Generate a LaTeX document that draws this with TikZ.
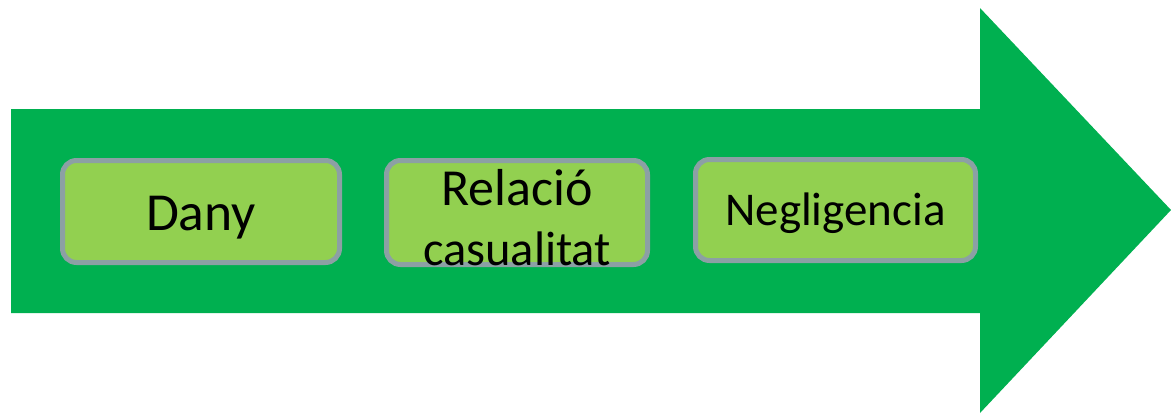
\documentclass[tikz,border=0pt]{standalone}
\usepackage{fontspec}
\setmainfont{Carlito}
\definecolor{arrowgreen}{RGB}{0,176,80}
\definecolor{boxgreen}{RGB}{146,208,80}
\definecolor{boxgray}{RGB}{140,160,164}
\begin{document}
\begin{tikzpicture}[x=1pt,y=-1pt,
    stagebox/.style={draw=boxgray, line width=5pt, fill=boxgreen,
      rounded corners=14pt, inner sep=0pt},
    stagetext/.style={anchor=base, inner sep=0pt, text=black}]
      \useasboundingbox (0,0) rectangle (1171,413);
      % big arrow
      \coordinate (tail top) at (11,109);
      \coordinate (tail bot) at (11,313);
      \coordinate (tip) at (1171,210);
      \fill[arrowgreen] (tail top) -- (980,109) -- (980,8) -- (tip)
        -- (980,413) -- (980,313) -- (tail bot) -- cycle;
      % stages
      \node[stagebox, minimum width=277pt, minimum height=102pt] (dany) at (201,211.5) {};
      \node[stagebox, minimum width=261pt, minimum height=104pt] (relacio) at (517,212.5) {};
      \node[stagebox, minimum width=280pt, minimum height=101pt] (neglig) at (835.5,210) {};
      \node[stagetext, font=\fontsize{53.5}{64}\selectfont] (dany txt)
        at ([yshift=-18.5pt]dany.center) {Dany};
      \node[stagetext, font=\fontsize{52}{62}\selectfont] (relacio txt)
        at ([yshift=7.5pt]relacio.center) {Relació};
      \node[stagetext, font=\fontsize{48.5}{60}\selectfont] (casual txt)
        at ([yshift=-52.5pt]relacio.center) {casualitat};
      \node[stagetext, font=\fontsize{47}{56}\selectfont] (neglig txt)
        at ([yshift=-15pt]neglig.center) {Negligencia};
\end{tikzpicture}
\end{document}
